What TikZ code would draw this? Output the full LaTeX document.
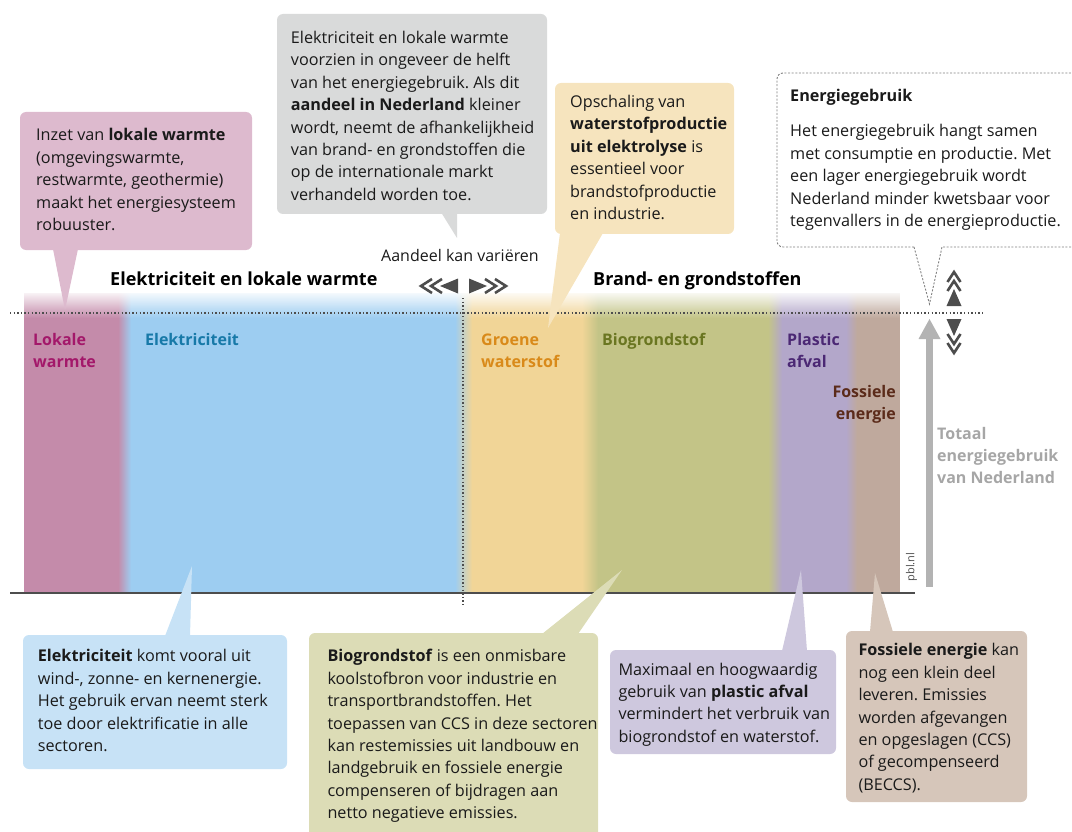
\documentclass[tikz,border=0pt]{standalone}
\usepackage{fontspec}
\setmainfont{Open Sans}
\frenchspacing
\usetikzlibrary{fadings}
\definecolor{txt}{HTML}{1A1A1A}
\definecolor{pinkbar}{HTML}{C48BAA}
\definecolor{bluebar}{HTML}{9DCDF1}
\definecolor{yellowbar}{HTML}{F1D597}
\definecolor{olivebar}{HTML}{C3C487}
\definecolor{purplebar}{HTML}{B3A7CA}
\definecolor{brownbar}{HTML}{BFA99D}
\definecolor{pinkbox}{HTML}{DDBACE}
\definecolor{graybox}{HTML}{D9DADA}
\definecolor{yellowbox}{HTML}{F6E4BE}
\definecolor{bluebox}{HTML}{C7E2F6}
\definecolor{olivebox}{HTML}{DCDCB6}
\definecolor{purplebox}{HTML}{CEC8DE}
\definecolor{brownbox}{HTML}{D6C6BA}
\definecolor{lpink}{HTML}{A3186A}
\definecolor{lblue}{HTML}{1779A8}
\definecolor{lyellow}{HTML}{D98A1A}
\definecolor{lolive}{HTML}{6A7621}
\definecolor{lpurple}{HTML}{4B2874}
\definecolor{lbrown}{HTML}{5B2B1A}
\definecolor{darkg}{HTML}{4D4D4D}
\definecolor{lightg}{HTML}{B3B3B3}
\definecolor{totg}{HTML}{A6A6A6}
\tikzset{
  ctext/.style={font=\fontsize{16.2}{22.4}\selectfont, align=left, inner sep=0pt, anchor=north west, text=txt},
  barlabel/.style={font=\fontsize{16}{22}\selectfont\bfseries, align=left, inner sep=0pt, anchor=north west},
  header/.style={font=\fontsize{18}{22}\selectfont\bfseries, inner sep=0pt, anchor=base west, text=black},
  dotline/.style={draw=darkg, line width=1.1pt, dash pattern=on 1.4pt off 2.2pt},
  dotbox/.style={draw=gray, line width=0.9pt, dash pattern=on 2pt off 1.6pt},
  chev/.style={draw=darkg, line width=2.6pt, line join=miter, miter limit=10},
  tri/.style={fill=darkg},
}
\begin{document}
\begin{tikzpicture}[x=1pt,y=-1pt]
\useasboundingbox (0,0) rectangle (1072,832);
% ---------- bars ----------
\fill[pinkbar] (24,293) rectangle (118,593);
\shade[left color=pinkbar, right color=bluebar] (118,293) rectangle (131,593);
\fill[bluebar] (131,293) rectangle (455,593);
\shade[left color=bluebar, right color=yellowbar] (455,293) rectangle (472,593);
\fill[yellowbar] (472,293) rectangle (582,593);
\shade[left color=yellowbar, right color=olivebar] (582,293) rectangle (598,593);
\fill[olivebar] (598,293) rectangle (768,593);
\shade[left color=olivebar, right color=purplebar] (768,293) rectangle (782,593);
\fill[purplebar] (782,293) rectangle (846,593);
\shade[left color=purplebar, right color=brownbar] (846,293) rectangle (857,593);
\fill[brownbar] (857,293) rectangle (900,593);
\fill[white, path fading=south] (20,290) rectangle (905,318);
% ---------- lines ----------
\coordinate (hl1) at (10,313);
\coordinate (hl2) at (985,313);
\coordinate (vl1) at (463,298);
\coordinate (vl2) at (463,607);
\coordinate (bl1) at (10,593);
\coordinate (bl2) at (915,593);
\draw[dotline] (hl1) -- (hl2);
\draw[dotline] (vl1) -- (vl2);
\draw[draw=darkg, line width=2.5pt] (bl1) -- (bl2);
% ---------- bar labels ----------
\node[barlabel, text=lpink] (lbl1) at (33,329.6) {\strut Lokale\\warmte};
\node[barlabel, text=lblue] (lbl2) at (145,329.6) {\strut Elektriciteit};
\node[barlabel, text=lyellow] (lbl3) at (481,329.6) {\strut Groene\\waterstof};
\node[barlabel, text=lolive] (lbl4) at (602,329.6) {\strut Biogrondstof};
\node[barlabel, text=lpurple] (lbl5) at (787,329.6) {\strut Plastic\\afval};
\node[barlabel, text=lbrown, anchor=north east, align=right] (lbl6) at (896,381.6) {\strut Fossiele\\energie};
% ---------- headers ----------
\node[header] (h1) at (110,285) {Elektriciteit en lokale warmte};
\node[header] (h2) at (593,285) {Brand- en grondstoffen};
\node[font=\fontsize{16}{20}\selectfont, inner sep=0pt, anchor=base, text=txt] (aand) at (460,261.7) {Aandeel kan variëren};
% ---------- share arrows ----------
\fill[tri] (458,278.5) -- (458,293.5) -- (440,286) -- cycle;
\draw[chev] (442,279) -- (431,286) -- (442,293);
\draw[chev] (432,279) -- (421,286) -- (432,293);
\fill[tri] (469,278.5) -- (469,293.5) -- (487,286) -- cycle;
\draw[chev] (485,279) -- (496,286) -- (485,293);
\draw[chev] (495,279) -- (506,286) -- (495,293);
% ---------- energy up/down ----------
\fill[tri] (946.5,306) -- (961.5,306) -- (954,289) -- cycle;
\draw[chev] (947.5,291) -- (954,281) -- (960.5,291);
\draw[chev] (947.5,282) -- (954,272) -- (960.5,282);
\fill[tri] (946.5,319) -- (961.5,319) -- (954,336) -- cycle;
\draw[chev] (947.5,334) -- (954,344) -- (960.5,334);
\draw[chev] (947.5,343) -- (954,353) -- (960.5,343);
% ---------- total arrow ----------
\coordinate (ta1) at (929.5,587);
\coordinate (ta2) at (929.5,338);
\fill[lightg] (926,587) rectangle (933,338);
\fill[lightg] (918.5,339) -- (940.5,339) -- (929.5,319) -- cycle;
\node[font=\fontsize{16}{22}\selectfont\bfseries, text=totg, align=left, inner sep=0pt, anchor=north west] (tot) at (937,423.6) {\strut Totaal\\energiegebruik\\van Nederland};
\node[font=\fontsize{11}{13}\selectfont, text=darkg, rotate=90, inner sep=0pt] (pbl) at (911.5,567) {pbl.nl};
% ---------- callouts ----------
% pink
\fill[pinkbox, rounded corners=6pt] (20,112) rectangle (252,250);
\fill[pinkbox] (53,249) -- (78,249) -- (65,310) -- cycle;
\node[ctext] (pinkt) at (36,125) {\strut Inzet van \textbf{lokale warmte}\\(omgevingswarmte,\\restwarmte, geothermie)\\maakt het energiesysteem\\robuuster.};
% gray
\fill[graybox, rounded corners=6pt] (277,14) rectangle (547,214);
\fill[graybox] (441.5,213) -- (457,213) -- (457,238) -- cycle;
\node[ctext] (grayt) at (290.7,27.6) {\strut Elektriciteit en lokale warmte\\voorzien in ongeveer de helft\\van het energiegebruik. Als dit\\\textbf{aandeel in Nederland} kleiner\\wordt, neemt de afhankelijkheid\\van brand- en grondstoffen die\\op de internationale markt\\verhandeld worden toe.};
% yellow
\fill[yellowbox, rounded corners=6pt] (555,83) rectangle (734,234);
\fill[yellowbox] (560,233) -- (603,233) -- (548,328) -- cycle;
\node[ctext] (yellowt) at (570,91.6) {\strut Opschaling van\\\textbf{waterstofproductie}\\\textbf{uit elektrolyse} is\\essentieel voor\\brandstofproductie\\en industrie.};
% energy dotted
\draw[dotbox, rounded corners=6pt] (914,247) -- (777,247) -- (777,73) -- (1090,73) -- (1090,247) -- (942,247);
\draw[dotbox] (914,247) -- (929.5,304) -- (942,247);
\node[ctext, font=\fontsize{16.2}{22.4}\selectfont\bfseries] (energt) at (790,86) {\strut Energiegebruik};
\node[ctext] (energb) at (790,121) {\strut Het energiegebruik hangt samen\\met consumptie en productie. Met\\een lager energiegebruik wordt\\Nederland minder kwetsbaar voor\\tegenvallers in de energieproductie.};
% blue
\fill[bluebox, rounded corners=6pt] (23,635) rectangle (287,769);
\fill[bluebox] (165,636) -- (190,636) -- (192,566) -- cycle;
\node[ctext] (bluet) at (37.7,646) {\strut\textbf{Elektriciteit} komt vooral uit\\wind-, zonne- en kernenergie.\\Het gebruik ervan neemt sterk\\toe door elektrificatie in alle\\sectoren.};
% olive
\fill[olivebox, rounded corners=6pt] (309,633) rectangle (598,850);
\fill[olivebox] (542,634) -- (578,634) -- (622,570) -- cycle;
\node[ctext] (olivet) at (327.3,646) {\strut\textbf{Biogrondstof} is een onmisbare\\koolstofbron voor industrie en\\transportbrandstoffen. Het\\toepassen van CCS in deze sectoren\\kan restemissies uit landbouw en\\landgebruik en fossiele energie\\compenseren of bijdragen aan\\netto negatieve emissies.};
% purple
\fill[purplebox, rounded corners=6pt] (610,650) rectangle (836,754);
\fill[purplebox] (782,651) -- (807,651) -- (801,570) -- cycle;
\node[ctext] (purplet) at (618.3,659.3) {\strut Maximaal en hoogwaardig\\gebruik van \textbf{plastic afval}\\vermindert het verbruik van\\biogrondstof en waterstof.};
% brown
\fill[brownbox, rounded corners=6pt] (846,631) rectangle (1027,802);
\fill[brownbox] (870,632) -- (893,632) -- (875,573) -- cycle;
\node[ctext] (brownt) at (858.3,640) {\strut\textbf{Fossiele energie} kan\\nog een klein deel\\leveren. Emissies\\worden afgevangen\\en opgeslagen (CCS)\\of gecompenseerd\\(BECCS).};
\end{tikzpicture}
\end{document}
